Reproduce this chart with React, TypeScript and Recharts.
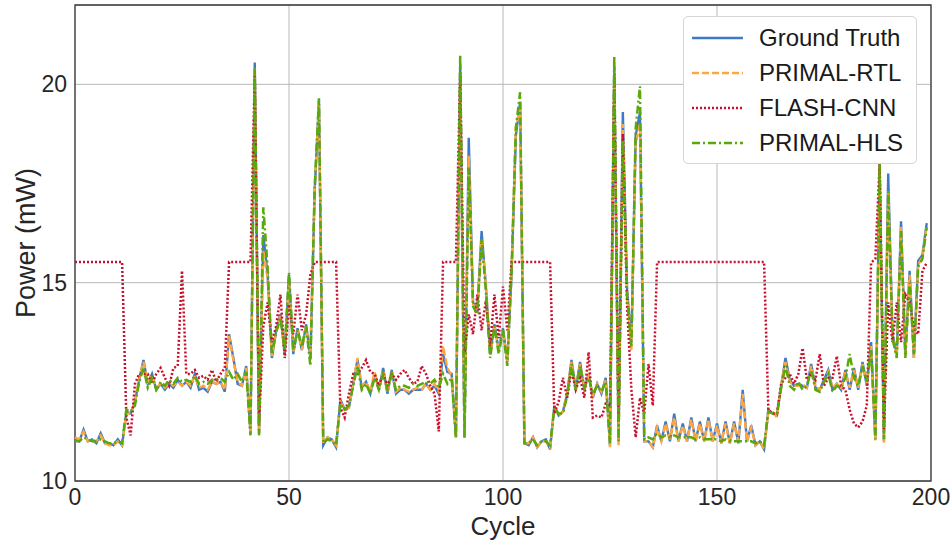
import { CartesianGrid, Legend, Line, LineChart, ReferenceArea, XAxis, YAxis } from 'recharts'

// cycle index 0..199
const cycles = Array.from({ length: 200 }, (_, i) => i)

const groundTruth = [
  11.05, 11.0, 11.3, 11.0, 11.05, 10.95, 11.2, 10.95, 10.95, 10.9,
  11.05, 10.9, 11.75, 11.7, 12.0, 12.55, 13.05, 12.45, 12.7, 12.3,
  12.45, 12.3, 12.45, 12.35, 12.55, 12.4, 12.5, 12.35, 12.7, 12.3,
  12.35, 12.25, 12.5, 12.45, 12.5, 12.25, 13.7, 13.1, 12.45, 12.4,
  12.9, 11.2, 20.55, 11.2, 16.2, 15.2, 13.1, 13.8, 14.2, 13.2,
  15.2, 13.2, 13.85, 13.3, 13.95, 13.1, 17.3, 19.6, 10.9, 11.1,
  11.05, 10.85, 12.05, 11.8, 11.85, 12.45, 13.05, 12.35, 12.5, 12.2,
  12.7, 12.3, 12.85, 12.2, 12.8, 12.2, 12.3, 12.3, 12.2, 12.3,
  12.3, 12.3, 12.45, 12.3, 12.4, 12.2, 13.2, 12.75, 12.7, 11.1,
  20.5, 11.1, 18.65, 14.5, 14.3, 16.3, 14.9, 13.2, 13.95, 13.3,
  13.85, 13.0, 15.2, 18.7, 19.55, 10.95, 10.9, 11.1, 10.85, 11.0,
  11.05, 10.8, 11.9, 11.65, 11.75, 12.2, 13.05, 12.3, 13.0, 12.3,
  12.7, 12.1, 12.45, 12.2, 12.6, 10.9, 20.45, 11.0, 19.3, 14.8,
  13.5, 18.7, 19.3, 11.0, 11.0, 10.85, 11.4, 11.0, 11.5, 11.0,
  11.7, 11.0, 11.45, 11.0, 11.6, 11.0, 11.5, 11.0, 11.6, 11.0,
  11.45, 10.95, 11.5, 10.95, 11.5, 10.95, 12.3, 11.0, 11.4, 10.9,
  11.0, 10.8, 11.8, 11.7, 11.65, 12.4, 13.1, 12.55, 12.4, 12.45,
  12.4, 12.35, 12.95, 12.35, 12.3, 12.55, 12.8, 12.3, 12.45, 12.3,
  12.8, 12.3, 12.85, 12.3, 13.0, 12.4, 13.5, 11.05, 17.9, 11.0,
  17.75, 13.7, 13.2, 16.55, 13.2, 15.3, 13.1, 15.55, 15.7, 16.5,
]

const primalRtl = [
  11.1, 11.05, 11.25, 11.0, 11.05, 11.0, 11.15, 10.95, 10.9, 10.9,
  11.0, 10.9, 11.7, 11.7, 12.0, 12.6, 13.0, 12.5, 12.65, 12.35,
  12.45, 12.35, 12.45, 12.4, 12.5, 12.4, 12.5, 12.4, 12.65, 12.35,
  12.4, 12.3, 12.5, 12.45, 12.5, 12.3, 13.65, 13.05, 12.5, 12.4,
  12.85, 11.2, 20.4, 11.2, 15.8, 15.1, 13.15, 13.75, 14.15, 13.25,
  15.1, 13.25, 13.8, 13.3, 13.9, 13.15, 17.4, 19.5, 10.95, 11.1,
  11.05, 10.9, 12.0, 11.8, 11.85, 12.45, 13.1, 12.4, 12.5, 12.25,
  12.75, 12.3, 12.8, 12.25, 12.75, 12.25, 12.35, 12.3, 12.25, 12.3,
  12.35, 12.3, 12.45, 12.3, 12.45, 12.25, 13.4, 12.85, 12.65, 11.1,
  20.3, 11.1, 18.2, 14.45, 14.3, 16.1, 15.0, 13.2, 13.9, 13.3,
  13.8, 13.0, 15.3, 18.9, 19.4, 10.95, 10.95, 11.1, 10.85, 11.0,
  11.0, 10.85, 11.85, 11.65, 11.75, 12.25, 13.0, 12.35, 12.95, 12.35,
  12.65, 12.15, 12.45, 12.25, 12.55, 10.85, 20.3, 10.9, 19.0, 14.6,
  13.3, 18.5, 19.0, 11.0, 11.0, 10.85, 11.35, 11.0, 11.45, 11.05,
  11.6, 11.0, 11.4, 11.0, 11.55, 11.0, 11.45, 11.0, 11.55, 11.0,
  11.4, 10.95, 11.45, 10.95, 11.45, 11.0, 12.2, 11.0, 11.35, 10.9,
  11.0, 10.8, 11.75, 11.75, 11.6, 12.45, 13.0, 12.5, 12.4, 12.4,
  12.45, 12.35, 12.9, 12.4, 12.3, 12.5, 12.75, 12.35, 12.45, 12.35,
  12.75, 12.35, 12.8, 12.35, 12.95, 12.45, 13.4, 11.0, 17.8, 10.95,
  17.3, 13.6, 13.15, 16.4, 13.2, 15.2, 13.1, 15.45, 15.65, 16.45,
]

const flashCnn = [
  15.52, 15.52, 15.52, 15.52, 15.52, 15.52, 15.52, 15.52, 15.52, 15.52,
  15.52, 15.52, 11.6, 11.15, 12.45, 12.7, 12.7, 12.7, 12.45, 12.7,
  12.85, 12.6, 12.4, 12.85, 12.9, 15.3, 12.7, 12.7, 12.8, 12.6,
  12.65, 12.55, 12.8, 12.5, 12.7, 12.85, 15.52, 15.52, 15.52, 15.52,
  15.52, 15.52, 20.25, 11.45, 13.9, 14.5, 13.5, 13.9, 14.7, 13.1,
  14.45, 13.7, 14.7, 13.8, 14.2, 15.2, 15.52, 15.52, 15.52, 15.52,
  15.52, 15.52, 11.85, 11.6, 12.2, 12.7, 12.7, 12.85, 13.05, 12.75,
  12.7, 12.4, 12.7, 12.4, 12.7, 12.55, 12.7, 12.8, 12.6, 12.45,
  12.5, 12.9, 12.7, 12.4, 12.2, 11.25, 15.52, 15.52, 15.52, 15.52,
  20.3, 13.2, 14.2, 13.7, 14.7, 13.8, 14.55, 13.4, 14.7, 13.6,
  14.9, 13.8, 15.52, 15.52, 15.52, 15.52, 15.52, 15.52, 15.52, 15.52,
  15.52, 15.52, 11.7, 12.0, 12.6, 12.1, 12.8, 12.3, 12.6, 12.1,
  13.25, 11.6, 11.65, 11.6, 11.95, 11.9, 20.25, 11.5, 18.75, 14.4,
  12.3, 11.1, 12.1, 11.7, 12.95, 11.9, 15.52, 15.52, 15.52, 15.52,
  15.52, 15.52, 15.52, 15.52, 15.52, 15.52, 15.52, 15.52, 15.52, 15.52,
  15.52, 15.52, 15.52, 15.52, 15.52, 15.52, 15.52, 15.52, 15.52, 15.52,
  15.52, 15.52, 11.8, 11.7, 11.7, 12.45, 12.6, 12.7, 12.45, 12.7,
  13.35, 12.55, 12.7, 12.55, 13.2, 12.4, 12.6, 12.6, 13.15, 12.4,
  12.3, 11.8, 11.45, 11.35, 11.5, 11.9, 15.5, 15.6, 18.0, 11.3,
  14.5, 13.5, 14.5, 13.5, 14.7, 14.5, 13.85, 13.7, 15.3, 15.5,
]

const primalHls = [
  11.0, 11.0, 11.1, 11.05, 11.0, 11.0, 11.05, 11.0, 10.95, 10.95,
  11.0, 10.95, 11.8, 11.75, 11.9, 12.5, 12.85, 12.35, 12.6, 12.3,
  12.5, 12.4, 12.55, 12.45, 12.6, 12.5, 12.55, 12.5, 12.65, 12.45,
  12.5, 12.45, 12.55, 12.55, 12.6, 12.5, 12.75, 12.55, 12.7, 12.5,
  12.75, 11.15, 20.4, 11.15, 16.9, 15.4, 13.2, 13.75, 14.1, 13.3,
  15.25, 13.3, 13.8, 13.4, 13.9, 12.9, 17.4, 19.65, 10.95, 11.05,
  11.0, 10.9, 11.95, 11.8, 11.9, 12.4, 12.9, 12.3, 12.45, 12.2,
  12.6, 12.3, 12.7, 12.3, 12.7, 12.3, 12.4, 12.4, 12.35, 12.45,
  12.4, 12.45, 12.5, 12.45, 12.55, 12.35, 12.7, 12.45, 12.6, 11.1,
  20.75, 11.1, 17.9, 14.4, 14.2, 16.1, 14.8, 13.1, 13.9, 13.2,
  13.8, 12.9, 15.3, 18.9, 19.8, 10.95, 10.95, 11.05, 10.9, 11.0,
  11.0, 10.9, 11.85, 11.7, 11.7, 12.15, 12.95, 12.3, 12.9, 12.35,
  12.6, 12.2, 12.4, 12.25, 12.5, 10.95, 20.7, 11.0, 18.6, 14.6,
  13.4, 18.9, 19.95, 11.05, 11.1, 11.05, 11.2, 11.1, 11.15, 11.1,
  11.15, 11.1, 11.1, 11.1, 11.1, 11.05, 11.1, 11.05, 11.05, 11.05,
  11.05, 11.0, 11.05, 11.0, 11.0, 11.0, 11.0, 11.0, 11.0, 10.95,
  11.0, 10.9, 11.75, 11.7, 11.7, 12.35, 12.9, 12.4, 12.3, 12.5,
  12.3, 12.4, 12.8, 12.3, 12.25, 12.5, 12.7, 12.25, 12.4, 12.35,
  12.6, 13.2, 12.6, 12.4, 12.9, 12.5, 13.3, 11.05, 18.0, 11.05,
  17.3, 13.6, 13.1, 16.3, 13.1, 15.0, 13.2, 15.4, 15.6, 16.4,
]

const xTicks = [0, 50, 100, 150, 200]
const yTicks = [10, 15, 20]

const series = [
  { key: 'gt', name: 'Ground Truth', color: '#3f7ac6', dash: undefined, width: 2.4 },
  { key: 'rtl', name: 'PRIMAL-RTL', color: '#ffa640', dash: '7 3', width: 2.4 },
  { key: 'flash', name: 'FLASH-CNN', color: '#c8102e', dash: '2 2', width: 2.5 },
  { key: 'hls', name: 'PRIMAL-HLS', color: '#5aa80a', dash: '8 3 2 3', width: 2.5 },
]

const data = cycles.map((c, i) => ({
  cycle: c,
  gt: groundTruth[i],
  rtl: primalRtl[i],
  flash: flashCnn[i],
  hls: primalHls[i],
}))

const LegendBox = () => (
  <div
    style={{
      background: '#fff',
      border: '1px solid #d6d6d6',
      borderRadius: 5,
      padding: '3px 0 5px 8px',
      boxSizing: 'border-box',
      width: 234,
      height: 148,
    }}
  >
    {series.map((s) => (
      <div key={s.key} style={{ display: 'flex', alignItems: 'center', height: 35 }}>
        <svg width={51} height={10}>
          <line x1={0} y1={5} x2={51} y2={5} stroke={s.color} strokeWidth={s.width} strokeDasharray={s.dash} />
        </svg>
        <span style={{ marginLeft: 16, fontSize: 24, color: '#1a1a1a', lineHeight: '35px' }}>{s.name}</span>
      </div>
    ))}
  </div>
)

export default function App() {
  return (
    <div style={{ position: 'absolute', left: 0, top: 0, fontFamily: '"Liberation Sans", Arial, sans-serif' }}>
      <LineChart width={952} height={541} data={data} margin={{ top: 5, right: 21, bottom: 0, left: 0 }}>
        <CartesianGrid stroke='#b8b8b8' strokeWidth={1} />
        <XAxis
          dataKey='cycle'
          type='number'
          domain={[0, 200]}
          ticks={xTicks}
          interval={0}
          tickLine={false}
          axisLine={false}
          height={60}
          tick={{ fontSize: 23, fill: '#262626' }}
          label={{ value: 'Cycle', position: 'insideBottom', offset: 6, fontSize: 26, fill: '#262626' }}
        />
        <YAxis
          type='number'
          domain={[10, 22]}
          ticks={yTicks}
          interval={0}
          tickLine={false}
          axisLine={false}
          width={75}
          allowDataOverflow
          tick={{ fontSize: 23, fill: '#262626' }}
          label={{
            value: 'Power (mW)',
            angle: -90,
            position: 'insideLeft',
            offset: 25,
            fontSize: 27,
            fill: '#262626',
            style: { textAnchor: 'middle' },
          }}
        />
        {series.map((s) => (
          <Line
            key={s.key}
            dataKey={s.key}
            name={s.name}
            stroke={s.color}
            strokeWidth={s.width}
            strokeDasharray={s.dash}
            dot={false}
            activeDot={false}
            isAnimationActive={false}
          />
        ))}
        <ReferenceArea x1={0} x2={200} y1={10} y2={22} fill='none' stroke='#3a3a3a' strokeWidth={1.3} ifOverflow='visible' />
        <Legend
          layout='vertical'
          align='center'
          verticalAlign='middle'
          content={<LegendBox />}
          wrapperStyle={{ top: 16, left: 683, width: 234, height: 148 }}
        />
      </LineChart>
    </div>
  )
}
